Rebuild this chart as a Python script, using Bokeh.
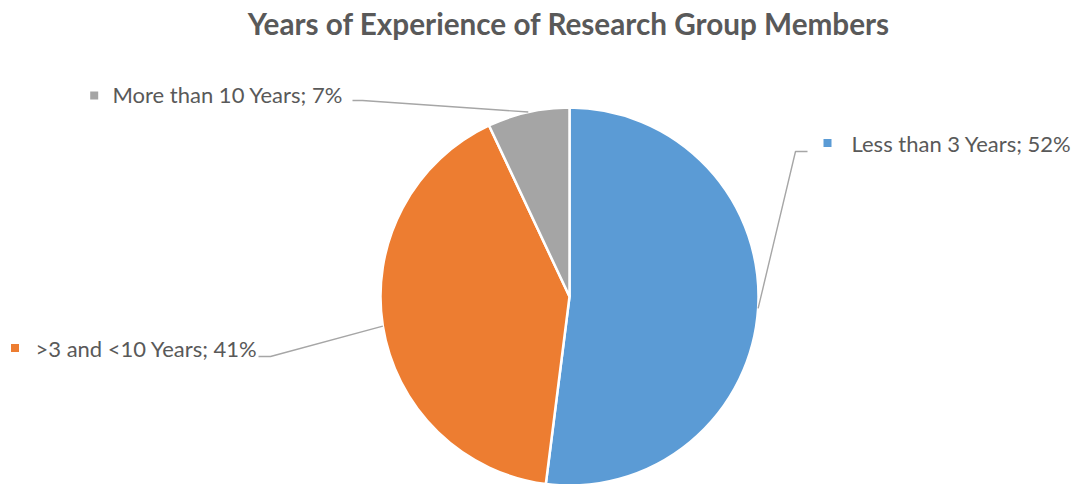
import math
from bokeh.plotting import figure
from bokeh.models import Range1d
from bokeh.core.properties import value
from bokeh.embed import file_html
from bokeh.resources import INLINE

# ---- data ----
categories = ["Less than 3 Years", ">3 and <10 Years", "More than 10 Years"]
percents = [52, 41, 7]
colors = ["#5B9BD5", "#ED7D31", "#A5A5A5"]
title_text = "Years of Experience of Research Group Members"

W, H = 1078, 484
p = figure(width=W, height=H, output_backend="svg", toolbar_location=None,
           x_range=Range1d(0, W), y_range=Range1d(0, H),
           min_border=0, outline_line_color=None)
p.axis.visible = False
p.grid.visible = False
p.background_fill_color = "white"
p.border_fill_color = "white"

def Y(img_y):
    return 484 - img_y

cx, cy, r = 569, 296, 189
total = sum(percents)
cum = 0.0
mids = []
for cat, v, col in zip(categories, percents, colors):
    c0 = cum / total
    c1 = (cum + v) / total
    cum += v
    start = math.pi / 2 - 2 * math.pi * c1
    end = math.pi / 2 - 2 * math.pi * c0
    p.wedge(x=cx, y=Y(cy), radius=r, start_angle=start, end_angle=end,
            fill_color=col, line_color="white", line_width=2.5)
    cm = (c0 + c1) / 2
    ang = 2 * math.pi * cm
    mids.append((cx + r * math.sin(ang), cy - r * math.cos(ang)))

# leader lines (elbow positions) and label positions
elbows = [[(795, 151), (807, 151)], [(270, 356), (258, 356)], [(362, 100), (352, 100)]]
label_pos = [(851, 143), (35, 348), (112, 94)]
marker_pos = [(827, 142.5), (14.5, 347.5), (93.7, 95)]
lead_col = "#A6A6A6"
for i in range(3):
    mx, my = mids[i]
    xs = [mx] + [e[0] for e in elbows[i]]
    ys = [Y(my)] + [Y(e[1]) for e in elbows[i]]
    p.line(xs, ys, line_color=lead_col, line_width=1.4)
    p.scatter([marker_pos[i][0]], [Y(marker_pos[i][1])], marker="square", size=8,
              fill_color=colors[i], line_color=None)
    p.text([label_pos[i][0]], [Y(label_pos[i][1])],
           text=[f"{categories[i]}; {percents[i]}%"],
           text_font=value("Lato"), text_font_size="22px", text_color="#595959",
           text_baseline="middle", text_align="left")

p.text([568.5], [Y(23)], text=[title_text], text_font=value("Lato"),
       text_font_size="29.7px", text_font_style="bold", text_color="#595959",
       text_baseline="middle", text_align="center")

open("out.html", "w").write(file_html(p, INLINE))
